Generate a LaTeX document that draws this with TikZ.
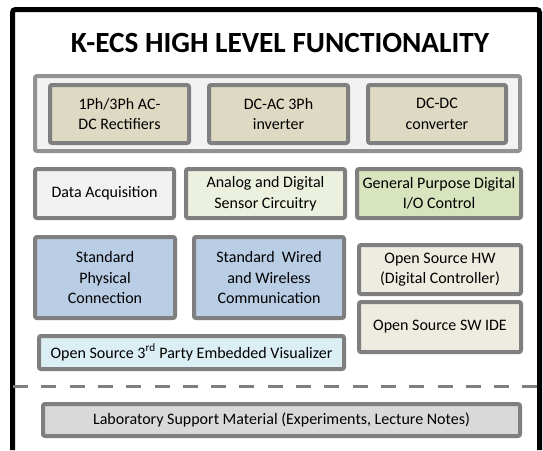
\documentclass[tikz,border=0pt]{standalone}
\usepackage{fontspec}
\setmainfont{Carlito}
\definecolor{edge}{HTML}{7F7F7F}
\definecolor{tan}{HTML}{DDD9C3}
\definecolor{pale}{HTML}{F2F2F2}
\definecolor{sage}{HTML}{EBF1DE}
\definecolor{leaf}{HTML}{D7E4BD}
\definecolor{steel}{HTML}{B9CDE5}
\definecolor{cream}{HTML}{EEECE1}
\definecolor{ice}{HTML}{DBEEF4}
\definecolor{stone}{HTML}{D9D9D9}

\begin{document}
\begin{tikzpicture}[x=1pt, y=-1pt,
	unit/.style={draw=edge, line width=4, rounded corners=2, align=center, inner sep=0pt,
		font=\fontsize{16}{20.5}\selectfont},
	]
	\useasboundingbox (0,0) rectangle (543,450);
	\fill[white] (0,0) rectangle (543,450);
	\draw[line width=5, rounded corners=3] (12.5,450) |- (539.5,9.5) -- (539.5,450);
	\node[font=\fontsize{29.3}{34}\selectfont\bfseries] (T) at (280,43) {K-ECS HIGH LEVEL FUNCTIONALITY};

	% power stage
	\node[unit, fill=pale, draw=edge!85, minimum width=485, minimum height=75] (PE) at (277.5,113.5) {};
	\node[unit, fill=tan, minimum width=139, minimum height=58] (R) at (119.5,114) {1Ph/3Ph AC-\\DC Rectifiers};
	\node[unit, fill=tan, minimum width=139, minimum height=58] (I) at (278.5,114) {DC-AC 3Ph\\inverter};
	\node[unit, fill=tan, minimum width=138, minimum height=58] (C) at (437,114) {DC-DC\\converter};

	% sensing and I/O
	\node[unit, fill=pale, minimum width=139, minimum height=49] (DA) at (104.5,193.5) {Data Acquisition};
	\node[unit, fill=sage, minimum width=159, minimum height=49] (AS) at (265.5,193.5) {Analog and Digital\\Sensor Circuitry};
	\node[unit, fill=leaf, minimum width=164, minimum height=49] (GP) at (439,193.5) {General Purpose Digital\\I/O Control};

	% communication and controller
	\node[unit, fill=steel, minimum width=140, minimum height=81] (PC) at (105,277.5) {Standard\\Physical\\Connection};
	\node[unit, fill=steel, minimum width=150, minimum height=81] (WC) at (269,277.5) {Standard\ \ Wired\\and Wireless\\Communication};
	\node[unit, fill=cream, minimum width=162, minimum height=49] (HW) at (440,269.5) {Open Source HW\\(Digital Controller)};
	\node[unit, fill=cream, minimum width=162, minimum height=50] (SW) at (440,327) {Open Source SW IDE};
	\node[unit, fill=ice, minimum width=305, minimum height=33] (V) at (191.5,352.5) {Open Source 3\textsuperscript{rd} Party Embedded Visualizer};

	\draw[edge, line width=3, dash pattern=on 15 off 13.3] (13,386.5) -- (540,386.5);

	\node[unit, fill=stone, minimum width=477, minimum height=32] (L) at (281.5,420) {Laboratory Support Material (Experiments, Lecture Notes)};
\end{tikzpicture}
\end{document}
